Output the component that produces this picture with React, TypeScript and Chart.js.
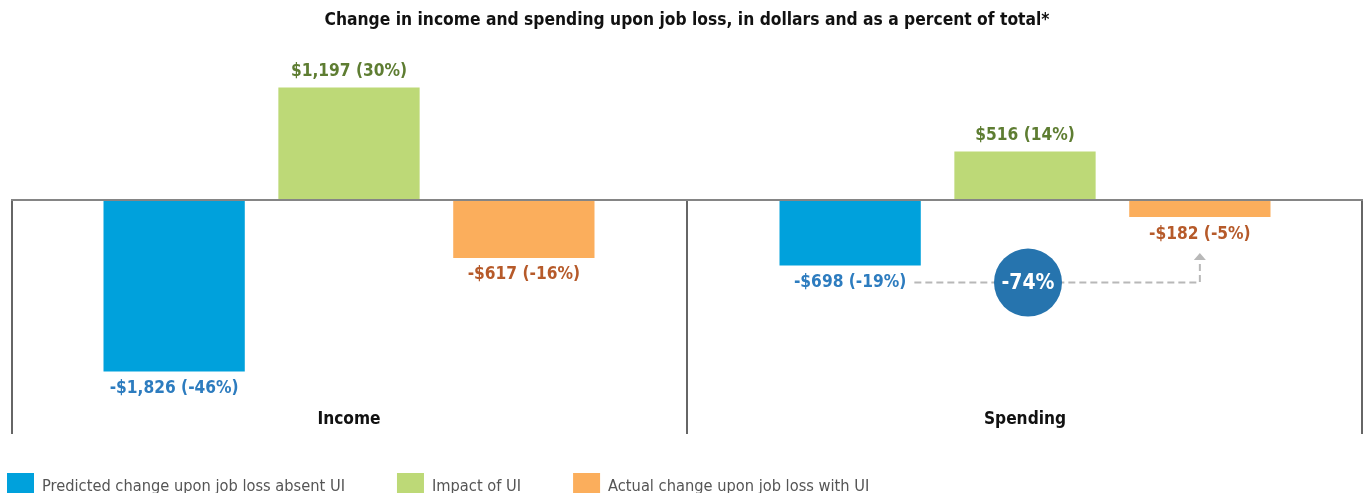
import React, { useEffect, useRef } from "react";
import { Chart, registerables } from "chart.js";

Chart.register(...registerables);

const TITLE = "Change in income and spending upon job loss, in dollars and as a percent of total*";
const categories = ["Income", "Spending"];
const seriesNames = [
  "Predicted change upon job loss absent UI",
  "Impact of UI",
  "Actual change upon job loss with UI",
];
const predictedValues = [-1826, -698];
const predictedPct = [-46, -19];
const impactValues = [1197, 516];
const impactPct = [30, 14];
const actualValues = [-617, -182];
const actualPct = [-16, -5];
const reductionLabel = "-74%";

const barColors = ["#00a1dc", "#bdd977", "#fbae5c"];
const labelColors = ["#2d7cbf", "#5e7d32", "#b65a2a"];
const pctLists = [predictedPct, impactPct, actualPct];

const FONT = "'DejaVu Sans Condensed', 'DejaVu Sans', sans-serif";

function fmt(v: number, p: number) {
  const s = Math.abs(v).toLocaleString("en-US");
  return `${v < 0 ? "-" : ""}$${s} (${p}%)`;
}

const annotatePlugin = {
  id: "annotate",
  afterDatasetsDraw(chart: any) {
    const { ctx, chartArea, scales } = chart;
    const x = scales.x;
    const y = scales.y;
    const zeroY = y.getPixelForValue(0);
    ctx.save();

    // frame: verticals at category boundaries, below zero
    const half = (x.getPixelForValue(1) - x.getPixelForValue(0)) / 2;
    const bounds = [x.getPixelForValue(0) - half, x.getPixelForValue(0) + half, x.getPixelForValue(1) + half];
    ctx.strokeStyle = "#666666";
    ctx.lineWidth = 2;
    bounds.forEach((bx, i) => {
      const xx = i === 0 ? bx + 1 : i === 2 ? bx - 1 : bx;
      ctx.beginPath();
      ctx.moveTo(xx, zeroY);
      ctx.lineTo(xx, chartArea.bottom);
      ctx.stroke();
    });
    // zero line
    ctx.strokeStyle = "#858585";
    ctx.lineWidth = 2;
    ctx.beginPath();
    ctx.moveTo(chartArea.left, zeroY);
    ctx.lineTo(chartArea.right, zeroY);
    ctx.stroke();

    // data labels
    ctx.font = `bold 17.2px ${FONT}`;
    ctx.textAlign = "center";
    ctx.textBaseline = "middle";
    const labelPos: any[][] = [];
    chart.data.datasets.forEach((ds: any, di: number) => {
      const meta = chart.getDatasetMeta(di);
      labelPos[di] = [];
      meta.data.forEach((el: any, i: number) => {
        const v = ds.data[i];
        const ly = v >= 0 ? el.y - 16 : el.y + 17;
        const txt = fmt(v, pctLists[di][i]);
        ctx.fillStyle = labelColors[di];
        ctx.fillText(txt, el.x, ly);
        labelPos[di][i] = { x: el.x, y: ly, w: ctx.measureText(txt).width };
      });
    });

    // category labels
    ctx.fillStyle = "#111111";
    ctx.font = `bold 17.2px ${FONT}`;
    categories.forEach((c, i) => {
      ctx.fillText(c, x.getPixelForValue(i), chartArea.bottom - 14);
    });

    // reduction annotation on Spending
    const from = labelPos[0][1];
    const to = labelPos[2][1];
    const mid = chart.getDatasetMeta(1).data[1];
    const ly = from.y;
    const startX = from.x + from.w / 2 + 8;
    const tipY = to.y + 19;
    ctx.strokeStyle = "#b8b8b8";
    ctx.lineWidth = 2;
    ctx.setLineDash([7, 4]);
    ctx.beginPath();
    ctx.moveTo(startX, ly);
    ctx.lineTo(to.x, ly);
    ctx.lineTo(to.x, tipY + 6);
    ctx.stroke();
    ctx.setLineDash([]);
    ctx.fillStyle = "#b8b8b8";
    ctx.beginPath();
    ctx.moveTo(to.x, tipY);
    ctx.lineTo(to.x - 6, tipY + 7);
    ctx.lineTo(to.x + 6, tipY + 7);
    ctx.closePath();
    ctx.fill();

    const cx = mid.x + 3;
    ctx.fillStyle = "#2674ae";
    ctx.beginPath();
    ctx.arc(cx, ly, 34, 0, Math.PI * 2);
    ctx.fill();
    ctx.fillStyle = "#ffffff";
    ctx.font = `bold 21px ${FONT}`;
    ctx.fillText(reductionLabel, cx, ly + 1);

    // title
    ctx.fillStyle = "#111111";
    ctx.font = `bold 17.3px ${FONT}`;
    ctx.fillText(TITLE, 687, 21);

    // legend
    ctx.font = `16.3px ${FONT}`;
    ctx.textAlign = "left";
    ctx.textBaseline = "alphabetic";
    let lx = chartArea.left - 4;
    chart.data.datasets.forEach((ds: any) => {
      ctx.fillStyle = ds.backgroundColor;
      ctx.fillRect(lx, 473, 27, 26);
      ctx.fillStyle = "#555555";
      ctx.fillText(ds.label, lx + 35, 491);
      lx += 35 + ctx.measureText(ds.label).width + 52;
    });

    ctx.restore();
  },
};

export default function App() {
  const ref = useRef<HTMLCanvasElement>(null);
  useEffect(() => {
    const chart = new Chart(ref.current!, {
      type: "bar",
      data: {
        labels: categories,
        datasets: [
          { label: seriesNames[0], data: predictedValues, backgroundColor: barColors[0] },
          { label: seriesNames[1], data: impactValues, backgroundColor: barColors[1] },
          { label: seriesNames[2], data: actualValues, backgroundColor: barColors[2] },
        ],
      },
      options: {
        animation: false,
        responsive: false,
        maintainAspectRatio: false,
        layout: { padding: { left: 11, right: 1, top: 60, bottom: 71 } },
        datasets: { bar: { categoryPercentage: 0.776, barPercentage: 0.808 } },
        scales: {
          x: { display: false },
          y: { display: false, min: -2490, max: 1490 },
        },
        plugins: {
          legend: { display: false },
          title: { display: false },
          tooltip: { enabled: false },
        },
      },
      plugins: [annotatePlugin],
    });
    return () => chart.destroy();
  }, []);
  return (
    <div style={{ position: "absolute", left: 0, top: 0, width: 1364, height: 505, background: "#ffffff" }}>
      <canvas ref={ref} width={1364} height={505} style={{ display: "block" }} />
    </div>
  );
}
